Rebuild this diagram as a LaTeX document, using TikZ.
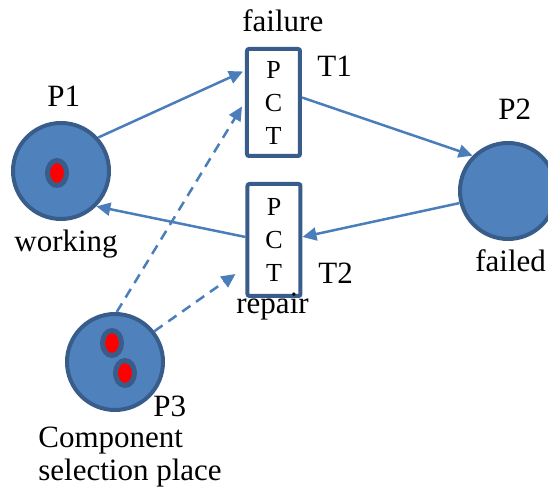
\documentclass[tikz,border=0pt]{standalone}
\usepackage{fontspec}
\setmainfont{Liberation Serif}
\usetikzlibrary{arrows.meta,calc,shapes.geometric}

\definecolor{placefill}{HTML}{4F81BD}
\definecolor{placeedge}{HTML}{385D8A}
\definecolor{arcblue}{HTML}{4A7EBB}

\tikzset{
  place/.style={circle, fill=placefill, draw=placeedge, line width=2pt,
                minimum size=48pt, inner sep=0pt},
  token/.style={ellipse, fill=red, draw=placeedge, line width=2.5pt,
                minimum width=9.5pt, minimum height=12.5pt, inner sep=0pt},
  trans/.style={rectangle, rounded corners=1pt, fill=white, draw=placeedge,
                line width=2pt, minimum width=26.5pt, inner sep=0pt,
                align=center, font=\fontsize{13}{16.5}\selectfont},
  arc/.style={draw=arcblue, line width=1.25pt,
              -{Triangle[length=7pt,width=6.5pt]}},
  inhib/.style={arc, dash pattern=on 5pt off 3.5pt},
  lbl/.style={anchor=base west, inner sep=0pt,
              font=\fontsize{15.5}{17}\selectfont}
}

\begin{document}
\begin{tikzpicture}[x=0.5pt,y=-0.5pt]
  \useasboundingbox (0,0) rectangle (548,491);

  % places
  \node[place] (P1) at (61,171) {};
  \node[place] (P2) at (508,191) {};
  \node[place] (P3) at (115,362) {};

  % tokens
  \node[token] (k1) at (57,173) {};
  \node[token] (k2) at (112,343) {};
  \node[token] (k3) at (125,373) {};

  % transitions
  \node[trans, minimum height=53.5pt] (T1) at (273.5,102.5) {P\\C\\T};
  \node[trans, minimum height=56pt] (T2) at (274,240) {P\\C\\T};

  % arcs
  \draw[arc] (P1.42) -- ($(T1.west)+(-2,-31)$);
  \draw[arc] ($(T1.east)+(0,-5)$) -- (P2.135);
  \draw[arc] (P2.194) -- ($(T2.east)+(0,-3)$);
  \draw[arc] ($(T2.west)+(0,-3)$) -- (P1.-45);
  \draw[inhib] (P3.88) -- ($(T1.west)+(-3,4)$);
  \draw[inhib] (P3.38) -- ($(T2.south west)+(-10,-24)$);

  % labels
  \node[lbl] (lfail) at (242,32) {failure};
  \node[lbl] (lT1) at (317,77) {T1};
  \node[lbl] (lP1) at (47,107) {P1};
  \node[lbl] (lP2) at (498,120) {P2};
  \node[lbl] (lwork) at (14,252) {working};
  \node[lbl] (lfailed) at (475,272) {failed};
  \node[lbl] (lT2) at (318,284) {T2};
  \node[lbl] (lrep) at (236,314) {repair};
  \node[lbl] (lP3) at (153,417) {P3};
  \node[lbl] (lcomp) at (38,448) {Component};
  \node[lbl] (lsel) at (38,481) {selection place};
\end{tikzpicture}
\end{document}
